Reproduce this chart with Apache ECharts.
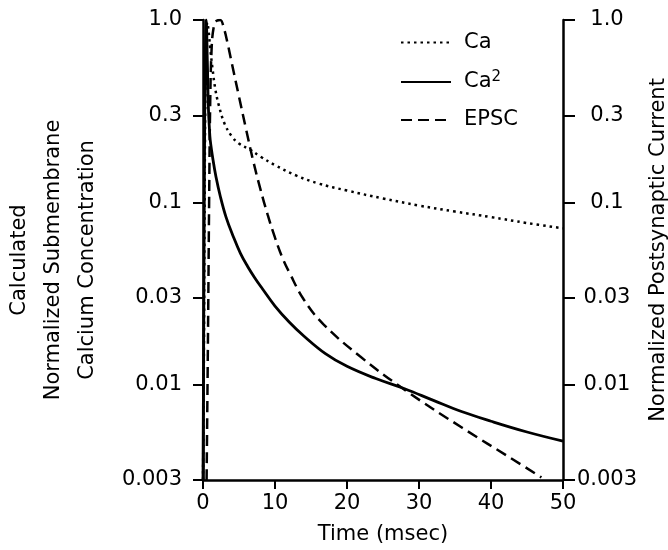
<!DOCTYPE html>
<html>
<head>
<meta charset="utf-8">
<script src="https://cdn.jsdelivr.net/npm/echarts@6/dist/echarts.min.js"></script>
<style>
  html, body { margin: 0; padding: 0; background: #fff; }
  #main { width: 668px; height: 550px; }
</style>
</head>
<body>
<div id="main"></div>
<script>
// values (time in msec, normalized amplitude)
let caTime = [0, 0.1, 0.2, 0.3, 0.45, 0.6, 0.8, 1.0, 1.3, 1.7, 2.2, 3, 4, 5, 6.5, 8, 10, 13, 16, 20, 25, 30, 35, 40, 45, 50];
let caValue = [0.003, 0.01, 0.06, 0.3, 0.8, 0.97, 0.85, 0.7, 0.55, 0.42, 0.34, 0.27, 0.23, 0.21, 0.195, 0.178, 0.16, 0.14, 0.127, 0.116, 0.105, 0.096, 0.089, 0.083, 0.077, 0.072];

let ca2Time = [0, 0.1, 0.2, 0.3, 0.45, 0.6, 0.75, 0.9, 1.0, 1.4, 1.8, 2.4, 3.2, 4.2, 5.2, 6.2, 7.2, 8.2, 10, 12, 14, 17, 20, 24, 28, 32, 36, 40, 45, 50];
let ca2Value = [0.003, 0.02, 0.15, 0.55, 1.0, 0.6, 0.33, 0.25, 0.22, 0.17, 0.138, 0.108, 0.083, 0.065, 0.0525, 0.0445, 0.0385, 0.0338, 0.027, 0.022, 0.0185, 0.0148, 0.0126, 0.0108, 0.0095, 0.0082, 0.0071, 0.0063, 0.0055, 0.0049];

let epscTime = [0.5, 0.7, 0.85, 1.0, 1.2, 1.5, 1.9, 2.4, 2.9, 3.4, 4, 5, 6, 7, 8, 9, 10, 11, 12, 14, 16.7, 21.8, 28.3, 36, 43, 47];
let epscValue = [0.003, 0.02, 0.1, 0.35, 0.7, 0.92, 0.99, 1.0, 0.9, 0.75, 0.58, 0.38, 0.25, 0.167, 0.117, 0.085, 0.064, 0.05, 0.0412, 0.0293, 0.0215, 0.0143, 0.0092, 0.0058, 0.0039, 0.0031];

let yTicks = [0.003, 0.01, 0.03, 0.1, 0.3, 1];
let yTickLabels = ['0.003', '0.01', '0.03', '0.1', '0.3', '1.0'];

let font = 'DejaVu Sans';
let pairs = (t, v) => t.map((x, i) => [x, v[i]]);
let tickLabel = v => {
  let best = 0;
  yTicks.forEach((t, i) => {
    if (Math.abs(Math.log(t) - Math.log(v)) < Math.abs(Math.log(yTicks[best]) - Math.log(v))) best = i;
  });
  return yTickLabels[best];
};

let chart = echarts.init(document.getElementById('main'), null, { renderer: 'canvas' });

let yAxisBase = {
  type: 'log',
  logBase: 10,
  min: 0.003,
  max: 1,
  nameLocation: 'middle',
  nameRotate: 90,
  splitLine: { show: false },
  axisLine: { show: true, lineStyle: { color: '#000', width: 2.5 } },
  axisTick: { show: true, inside: false, length: 10, customValues: yTicks, lineStyle: { color: '#000', width: 2 } },
  axisLabel: { customValues: yTicks, formatter: tickLabel, color: '#000', fontFamily: font, fontSize: 21 },
  nameTextStyle: { color: '#000', fontFamily: font, fontSize: 21 }
};

chart.setOption({
  backgroundColor: '#fff',
  animation: false,
  grid: { left: 203, right: 105, top: 20, bottom: 70, containLabel: false, outerBoundsMode: 'none' },
  legend: {
    left: 395,
    top: 27,
    orient: 'vertical',
    itemWidth: 50,
    itemHeight: 16,
    itemGap: 17,
    data: ['Ca', 'Ca²', 'EPSC'],
    itemStyle: { color: 'rgba(0,0,0,0)', borderWidth: 0, opacity: 0 },
    formatter: name => name === 'Ca²' ? '{b|Ca}{s|2}' : '{b|' + name + '}',
    textStyle: {
      color: '#000',
      fontFamily: font,
      fontSize: 21,
      rich: {
        b: { fontFamily: font, fontSize: 21, lineHeight: 24, color: '#000', padding: [0, 0, 0, 8] },
        s: { fontFamily: font, fontSize: 15, lineHeight: 24, color: '#000', verticalAlign: 'top' }
      }
    }
  },
  xAxis: {
    type: 'value',
    min: 0,
    max: 50,
    interval: 10,
    name: 'Time (msec)',
    nameLocation: 'middle',
    nameGap: 44,
    nameTextStyle: { color: '#000', fontFamily: font, fontSize: 21 },
    splitLine: { show: false },
    axisLine: { lineStyle: { color: '#000', width: 2.5 } },
    axisTick: { length: 9, lineStyle: { color: '#000', width: 2 } },
    axisLabel: { color: '#000', fontFamily: font, fontSize: 21, margin: 13 }
  },
  yAxis: [
    Object.assign({}, yAxisBase, {
      position: 'left',
      name: 'Calculated\nNormalized Submembrane\nCalcium Concentration',
      nameGap: 98,
      nameTextStyle: { color: '#000', fontFamily: font, fontSize: 21, lineHeight: 34, align: 'center', padding: [0, 20, 0, 0] },
      axisLabel: Object.assign({}, yAxisBase.axisLabel, { margin: 21 })
    }),
    Object.assign({}, yAxisBase, {
      position: 'right',
      name: 'Normalized Postsynaptic Current',
      nameGap: 73,
      axisTick: Object.assign({}, yAxisBase.axisTick, { length: 12 }),
      axisLabel: Object.assign({}, yAxisBase.axisLabel, { margin: 44, align: 'center' })
    })
  ],
  series: [
    {
      name: 'Ca',
      type: 'line',
      symbol: 'none',
      smooth: 0.4,
      lineStyle: { color: '#000', width: 2.5, type: [2.5, 4] },
      itemStyle: { color: '#000' },
      data: pairs(caTime, caValue)
    },
    {
      name: 'Ca²',
      type: 'line',
      symbol: 'none',
      smooth: 0.4,
      lineStyle: { color: '#000', width: 2.8 },
      itemStyle: { color: '#000' },
      data: pairs(ca2Time, ca2Value)
    },
    {
      name: 'EPSC',
      type: 'line',
      yAxisIndex: 1,
      symbol: 'none',
      smooth: 0.4,
      lineStyle: { color: '#000', width: 2.5, type: [11, 6] },
      itemStyle: { color: '#000' },
      data: pairs(epscTime, epscValue)
    }
  ]
});
</script>
</body>
</html>
